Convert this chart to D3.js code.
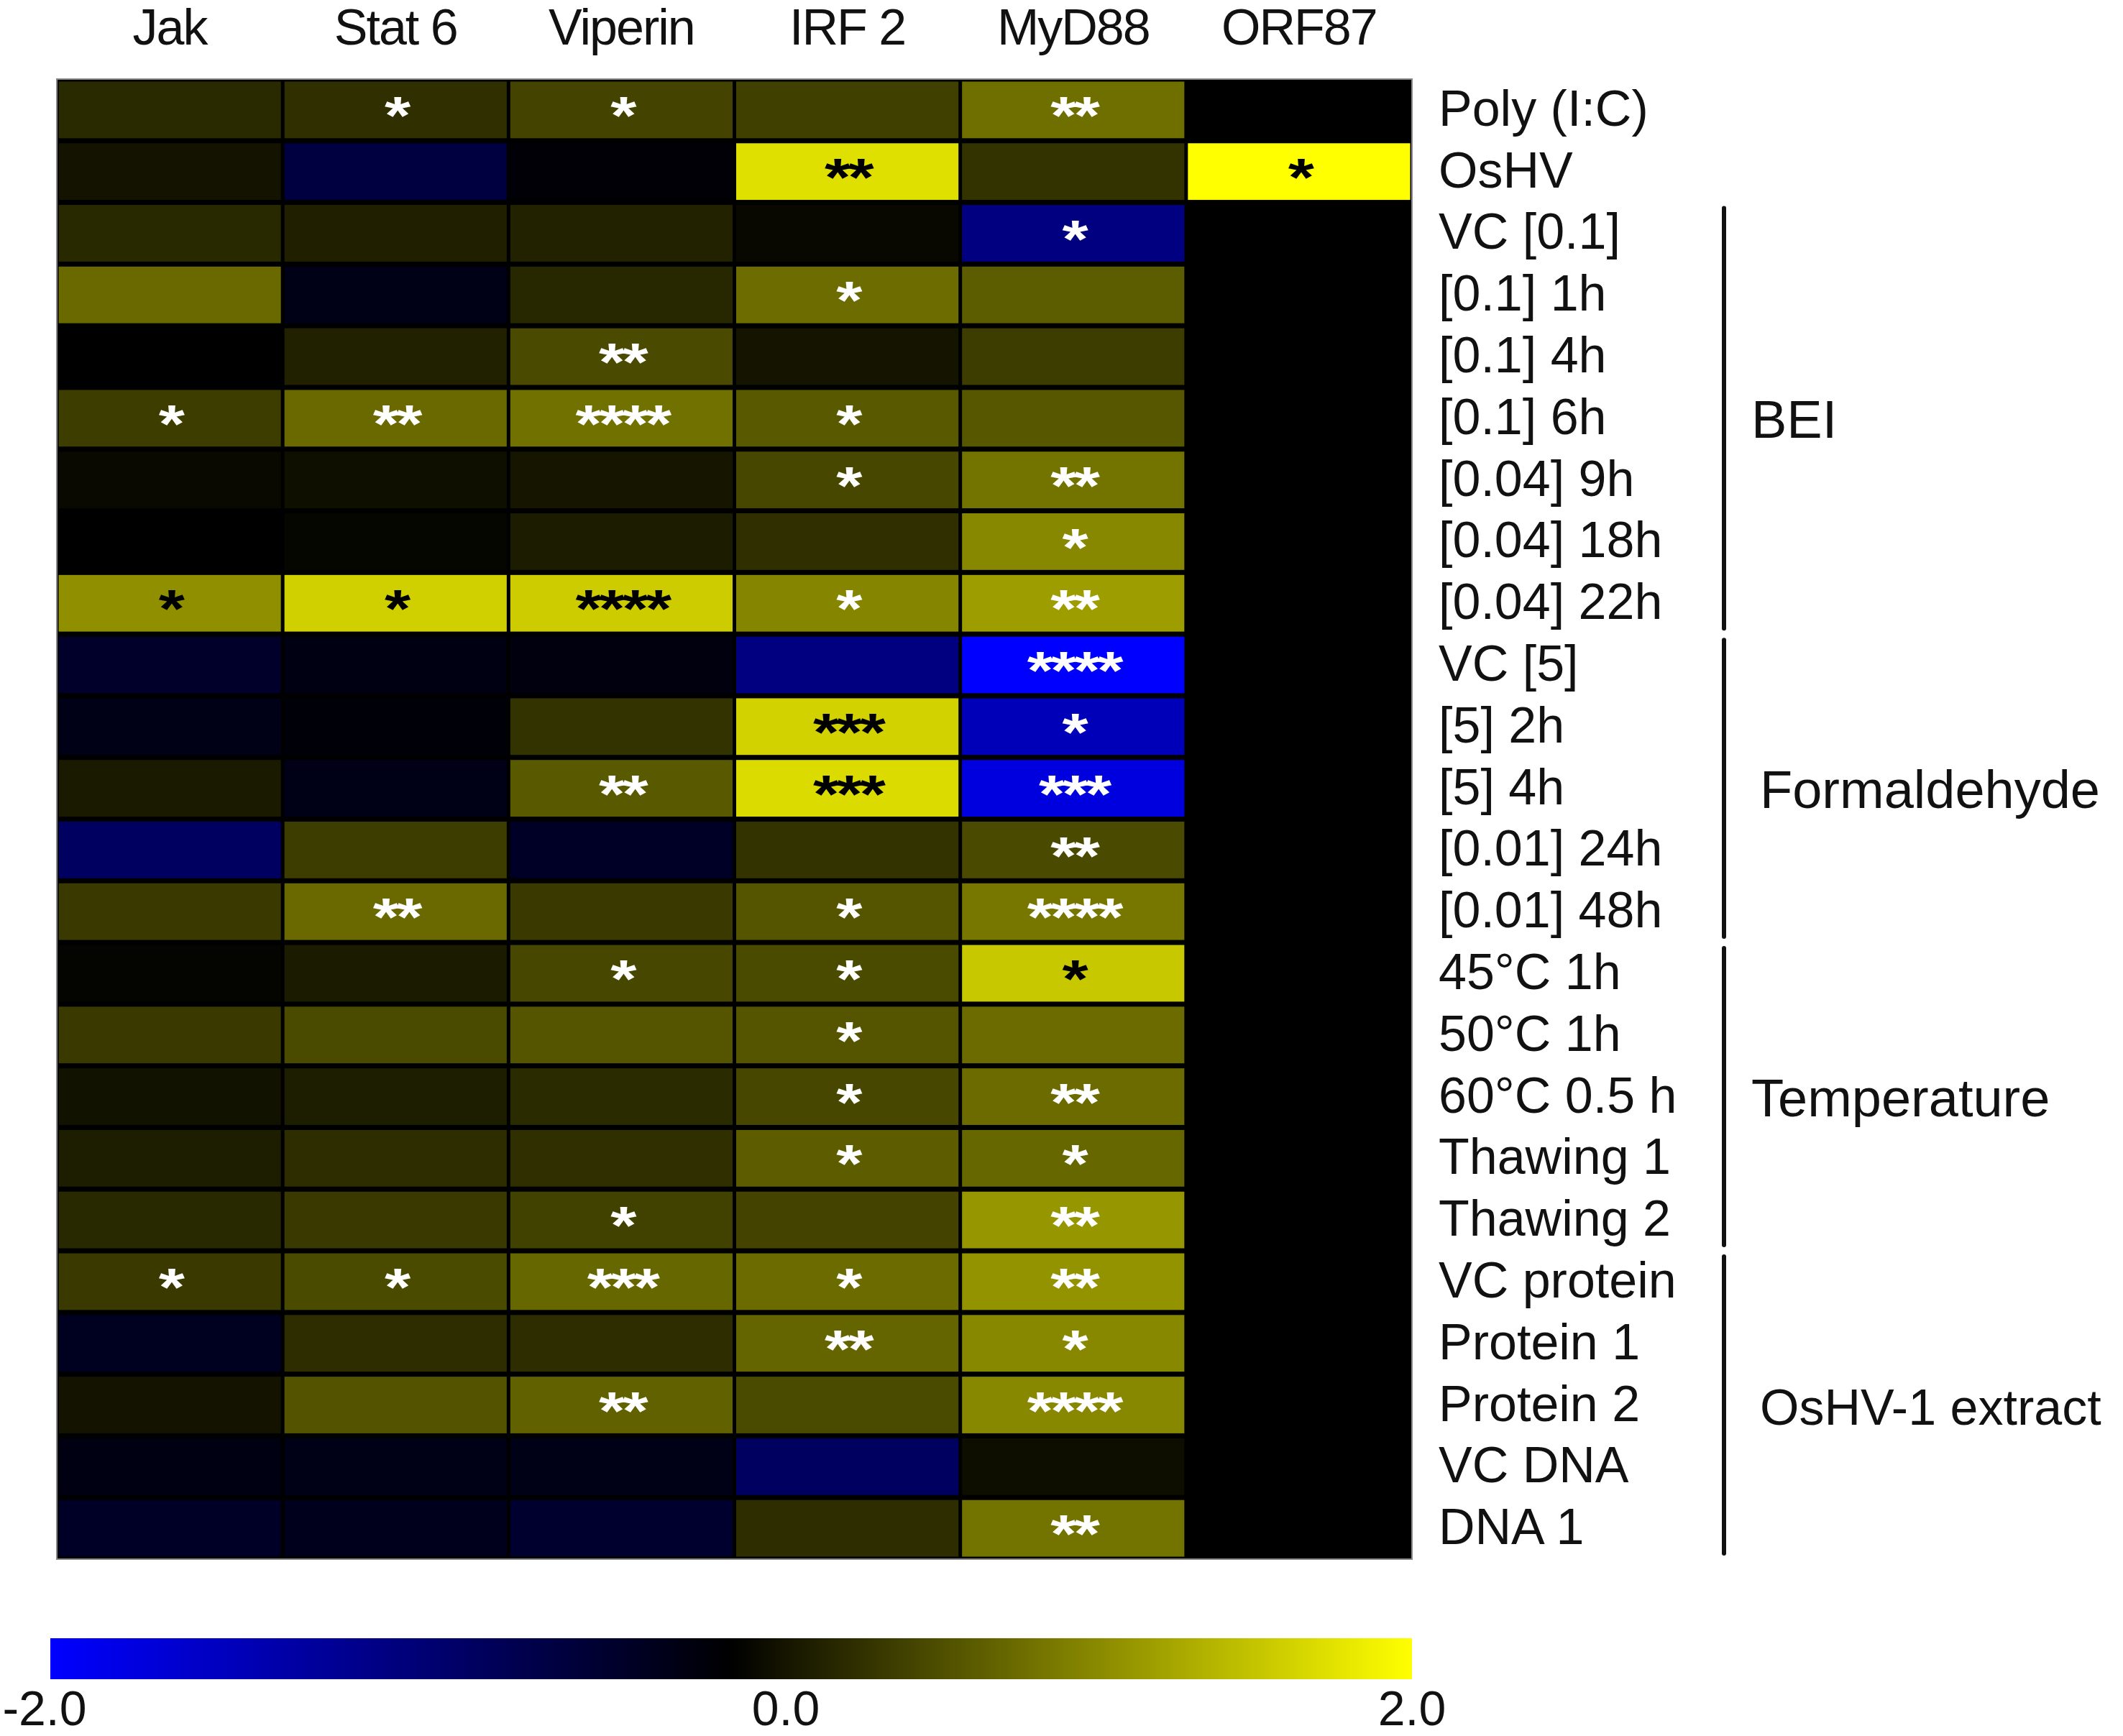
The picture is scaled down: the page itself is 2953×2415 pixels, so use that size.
<!DOCTYPE html>
<html>
<head>
<meta charset="utf-8">
<script src="https://cdn.jsdelivr.net/npm/d3@7"></script>
<style>
  body { margin: 0; background: #fff; }
  text { font-family: "Liberation Sans", Arial, sans-serif; }
</style>
</head>
<body>
<div id="chart"></div>
<script>
// genes (columns) and treatments (rows)
const genes = ["Jak", "Stat 6", "Viperin", "IRF 2", "MyD88", "ORF87"];
const treatments = [
  "Poly (I:C)", "OsHV", "VC [0.1]", "[0.1] 1h", "[0.1] 4h", "[0.1] 6h",
  "[0.04] 9h", "[0.04] 18h", "[0.04] 22h", "VC [5]", "[5] 2h", "[5] 4h",
  "[0.01] 24h", "[0.01] 48h", "45°C 1h", "50°C 1h", "60°C 0.5 h",
  "Thawing 1", "Thawing 2", "VC protein", "Protein 1", "Protein 2",
  "VC DNA", "DNA 1"
];

// log fold change per gene, one value per treatment
const jak = [0.33, 0.15, 0.32, 0.82, 0.0, 0.48, 0.07, 0.0, 1.12, -0.33, -0.18, 0.2,
  -0.75, 0.45, 0.03, 0.45, 0.14, 0.23, 0.32, 0.45, -0.25, 0.15, -0.15, -0.3];
const stat6 = [0.37, -0.5, 0.25, -0.18, 0.26, 0.82, 0.12, 0.05, 1.63, -0.15, -0.06, -0.18,
  0.48, 0.82, 0.21, 0.59, 0.23, 0.35, 0.45, 0.59, 0.35, 0.65, -0.18, -0.23];
const viperin = [0.53, -0.05, 0.27, 0.31, 0.58, 0.89, 0.17, 0.22, 1.6, -0.12, 0.4, 0.7,
  -0.3, 0.45, 0.56, 0.67, 0.34, 0.37, 0.51, 0.81, 0.35, 0.76, -0.18, -0.37];
const irf2 = [0.5, 1.75, 0.06, 0.85, 0.16, 0.7, 0.56, 0.37, 1.04, -1.0, 1.65, 1.72,
  0.4, 0.67, 0.59, 0.67, 0.56, 0.73, 0.53, 0.84, 0.79, 0.59, -0.75, 0.35];
const myd88 = [0.87, 0.4, -1.0, 0.72, 0.48, 0.68, 0.9, 1.06, 1.23, -2.0, -1.45, -1.75,
  0.58, 0.93, 1.57, 0.84, 0.84, 0.81, 1.18, 1.15, 1.07, 1.06, 0.11, 0.9];
const orf87 = [0, 2.0, 0, 0, 0, 0, 0, 0, 0, 0, 0, 0,
  0, 0, 0, 0, 0, 0, 0, 0, 0, 0, 0, 0];

// significance stars per gene
const jakSig = ["", "", "", "", "", "*", "", "", "*", "", "", "",
  "", "", "", "", "", "", "", "*", "", "", "", ""];
const stat6Sig = ["*", "", "", "", "", "**", "", "", "*", "", "", "",
  "", "**", "", "", "", "", "", "*", "", "", "", ""];
const viperinSig = ["*", "", "", "", "**", "****", "", "", "****", "", "", "**",
  "", "", "*", "", "", "", "*", "***", "", "**", "", ""];
const irf2Sig = ["", "**", "", "*", "", "*", "*", "", "*", "", "***", "***",
  "", "*", "*", "*", "*", "*", "", "*", "**", "", "", ""];
const myd88Sig = ["**", "", "*", "", "", "", "**", "*", "**", "****", "*", "***",
  "**", "****", "*", "", "**", "*", "**", "**", "*", "****", "", "**"];
const orf87Sig = ["", "*", "", "", "", "", "", "", "", "", "", "",
  "", "", "", "", "", "", "", "", "", "", "", ""];

// stars printed in black: [treatment index, gene index]
const darkStars = [[1, 3], [1, 5], [8, 0], [8, 1], [8, 2], [10, 3], [11, 3], [14, 4]];

// treatment groups and their row ranges
const groupNames = ["BEI", "Formaldehyde", "Temperature", "OsHV-1 extract"];
const groupFirst = [2, 9, 14, 19];
const groupLast = [8, 13, 18, 23];

// colour bar ticks
const legendTicks = [-2, 0, 2];

const w = 2953;
const h = 2415;

const series = [jak, stat6, viperin, irf2, myd88, orf87];
const sigs = [jakSig, stat6Sig, viperinSig, irf2Sig, myd88Sig, orf87Sig];

const cells = [];
treatments.forEach((t, r) => {
  genes.forEach((g, c) => {
    cells.push({ r: r, c: c, gene: g, treatment: t, value: series[c][r], sig: sigs[c][r] });
  });
});

const xScale = d3.scaleBand().domain(genes).range([79, 1964]);
const yScale = d3.scaleBand().domain(treatments).range([110, 2169]);

const color = d3.scaleLinear()
  .domain([-2, 0, 2])
  .range(["#0000ff", "#000000", "#ffff00"])
  .clamp(true);

const svg = d3.select("#chart")
  .append("svg")
  .attr("width", w)
  .attr("height", h);

// black background shows through as grid lines
svg.append("rect")
  .attr("x", 79)
  .attr("y", 110)
  .attr("width", 1964 - 79)
  .attr("height", 2169 - 110)
  .attr("fill", "#000");

svg.selectAll("rect.cell")
  .data(cells)
  .enter()
  .append("rect")
  .attr("class", "cell")
  .attr("x", (d) => xScale(d.gene) + 2.5)
  .attr("y", (d) => yScale(d.treatment) + 3.5)
  .attr("width", xScale.bandwidth() - 5)
  .attr("height", yScale.bandwidth() - 7)
  .attr("fill", (d) => color(d.value));

svg.append("rect")
  .attr("x", 79)
  .attr("y", 110)
  .attr("width", 1964 - 79)
  .attr("height", 2169 - 110)
  .attr("fill", "none")
  .attr("stroke", "#8a8a8a")
  .attr("stroke-width", 2);

// significance stars
const starSize = 75;
svg.selectAll("text.star")
  .data(cells.filter((d) => d.sig !== ""))
  .enter()
  .append("text")
  .attr("class", "star")
  .attr("text-anchor", "middle")
  .attr("font-weight", "bold")
  .attr("font-size", starSize)
  .attr("letter-spacing", -3)
  .attr("transform", (d) => {
    const cx = xScale(d.gene) + xScale.bandwidth() / 2 + 1;
    const cy = yScale(d.treatment) + yScale.bandwidth() / 2 - 10 + starSize * 0.575;
    return `translate(${cx}, ${cy}) scale(1.24, 1)`;
  })
  .attr("fill", (d) => darkStars.some((p) => p[0] === d.r && p[1] === d.c) ? "#000" : "#fff")
  .text((d) => d.sig);

// column labels
svg.selectAll("text.gene")
  .data(genes)
  .enter()
  .append("text")
  .attr("class", "gene")
  .attr("x", (d) => xScale(d) + xScale.bandwidth() / 2)
  .attr("y", 62)
  .attr("text-anchor", "middle")
  .attr("font-size", 70)
  .attr("letter-spacing", -2)
  .attr("fill", "#111")
  .text((d) => d);

// row labels
svg.selectAll("text.treatment")
  .data(treatments)
  .enter()
  .append("text")
  .attr("class", "treatment")
  .attr("x", 2001)
  .attr("y", (d) => yScale(d) + yScale.bandwidth() / 2 + 22)
  .attr("font-size", 70)
  .attr("fill", "#111")
  .text((d) => d);

// group brackets
const bracketX = 2398;
groupNames.forEach((name, i) => {
  const top = yScale(treatments[groupFirst[i]]);
  const bottom = yScale(treatments[groupLast[i]]) + yScale.bandwidth();
  svg.append("line")
    .attr("x1", bracketX)
    .attr("x2", bracketX)
    .attr("y1", top + 8)
    .attr("y2", bottom - 8)
    .attr("stroke", "#111")
    .attr("stroke-width", 6)
    .attr("stroke-linecap", "round");
  svg.append("text")
    .attr("x", bracketX + (i % 2 === 1 ? 50 : 38))
    .attr("y", (top + bottom) / 2 + 27)
    .attr("font-size", i === 3 ? 70 : 74)
    .attr("fill", "#111")
    .text(name);
});

// colour bar
const legendScale = d3.scaleLinear().domain([-2, 2]).range([70, 1964]);

const grad = svg.append("defs")
  .append("linearGradient")
  .attr("id", "bar-grad")
  .attr("x1", "0%")
  .attr("x2", "100%");

grad.selectAll("stop")
  .data(d3.range(0, 21))
  .enter()
  .append("stop")
  .attr("offset", (i) => `${i * 5}%`)
  .attr("stop-color", (i) => color(-2 + i * 0.2));

svg.append("rect")
  .attr("x", legendScale(-2))
  .attr("y", 2279)
  .attr("width", legendScale(2) - legendScale(-2))
  .attr("height", 57)
  .attr("fill", "url(#bar-grad)");

svg.selectAll("text.tick")
  .data(legendTicks)
  .enter()
  .append("text")
  .attr("class", "tick")
  .attr("x", (d) => legendScale(d) + (d === 0 ? 76 : d < 0 ? -8 : 0))
  .attr("y", 2400)
  .attr("text-anchor", "middle")
  .attr("font-size", 68)
  .attr("fill", "#111")
  .text((d) => d3.format(".1f")(d).replace("\u2212", "-"));
</script>
</body>
</html>
